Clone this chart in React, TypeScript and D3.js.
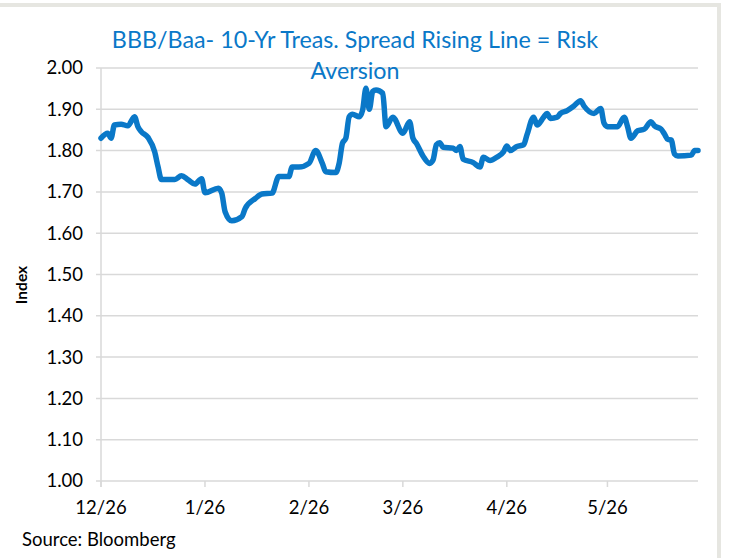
import React from 'react';
import * as d3 from 'd3';

// BBB/Baa - 10yr Treasury spread
const dates = [
  '2018-12-26', '2018-12-28', '2018-12-29', '2018-12-30', '2019-01-01', '2019-01-03', '2019-01-05',
  '2019-01-06', '2019-01-07', '2019-01-09', '2019-01-11', '2019-01-12', '2019-01-13', '2019-01-17',
  '2019-01-19', '2019-01-21', '2019-01-23', '2019-01-25', '2019-01-26', '2019-01-30', '2019-01-31',
  '2019-02-01', '2019-02-03', '2019-02-06', '2019-02-07', '2019-02-10', '2019-02-12', '2019-02-15',
  '2019-02-17', '2019-02-20', '2019-02-21', '2019-02-23', '2019-02-26', '2019-02-28', '2019-03-02',
  '2019-03-03', '2019-03-06', '2019-03-07', '2019-03-08', '2019-03-09', '2019-03-10', '2019-03-11',
  '2019-03-13', '2019-03-14', '2019-03-15', '2019-03-16', '2019-03-17', '2019-03-18', '2019-03-20',
  '2019-03-21', '2019-03-23', '2019-03-26', '2019-03-28', '2019-03-29', '2019-03-30', '2019-04-01',
  '2019-04-03', '2019-04-04', '2019-04-05', '2019-04-06', '2019-04-07', '2019-04-10', '2019-04-11',
  '2019-04-12', '2019-04-13', '2019-04-16', '2019-04-18', '2019-04-19', '2019-04-21', '2019-04-23',
  '2019-04-25', '2019-04-26', '2019-04-27', '2019-04-29', '2019-05-01', '2019-05-02', '2019-05-04',
  '2019-05-05', '2019-05-07', '2019-05-08', '2019-05-09', '2019-05-11', '2019-05-12', '2019-05-14',
  '2019-05-16', '2019-05-18', '2019-05-19', '2019-05-22', '2019-05-24', '2019-05-25', '2019-05-26',
  '2019-05-29', '2019-05-31', '2019-06-01', '2019-06-02', '2019-06-04', '2019-06-06', '2019-06-08',
  '2019-06-09', '2019-06-11', '2019-06-12', '2019-06-13', '2019-06-14', '2019-06-15', '2019-06-16',
  '2019-06-20', '2019-06-21', '2019-06-22',
];

const spread = [
  1.830, 1.842, 1.830, 1.862, 1.864, 1.860, 1.882,
  1.858, 1.846, 1.832, 1.797, 1.761, 1.730, 1.730,
  1.739, 1.729, 1.719, 1.732, 1.698, 1.709, 1.697,
  1.652, 1.630, 1.640, 1.660, 1.684, 1.695, 1.697,
  1.737, 1.737, 1.760, 1.760, 1.769, 1.800, 1.769,
  1.749, 1.747, 1.769, 1.818, 1.830, 1.882, 1.888,
  1.882, 1.898, 1.951, 1.900, 1.943, 1.947, 1.939,
  1.858, 1.881, 1.842, 1.870, 1.830, 1.818, 1.787,
  1.769, 1.777, 1.814, 1.819, 1.808, 1.806, 1.800,
  1.810, 1.779, 1.771, 1.760, 1.784, 1.776, 1.784,
  1.797, 1.811, 1.800, 1.810, 1.814, 1.838, 1.881,
  1.862, 1.881, 1.890, 1.878, 1.881, 1.890, 1.897,
  1.908, 1.921, 1.908, 1.890, 1.902, 1.866, 1.858,
  1.858, 1.881, 1.858, 1.830, 1.848, 1.852, 1.870,
  1.860, 1.852, 1.840, 1.827, 1.826, 1.792, 1.787,
  1.789, 1.800, 1.800,
];

const xTickDates = ['2018-12-26', '2019-01-26', '2019-02-26', '2019-03-26', '2019-04-26', '2019-05-26'];
const yTicks = [1.0, 1.1, 1.2, 1.3, 1.4, 1.5, 1.6, 1.7, 1.8, 1.9, 2.0];

const titleLines = ['BBB/Baa- 10-Yr Treas. Spread Rising Line = Risk', 'Aversion'];

const W = 729;
const H = 558;
const FONT = 'Lato, "Open Sans", sans-serif';
const BLUE = '#0a78c8';
const GRID = '#d9d9d9';

const parse = d3.timeParse('%Y-%m-%d');

export default function App() {
  const left = 101;
  const right = 698;
  const top = 68;
  const bottom = 481;

  const data = dates.map((d, i) => ({ date: parse(d) as Date, value: spread[i] }));

  const x = d3.scaleTime()
    .domain([parse('2018-12-26') as Date, parse('2019-06-22') as Date])
    .range([left, right]);

  const y = d3.scaleLinear()
    .domain([1.0, 2.0])
    .range([bottom, top]);

  const path = d3.line<{ date: Date; value: number }>()
    .x(d => x(d.date))
    .y(d => y(d.value))
    .curve(d3.curveMonotoneX)(data);

  const fmt = d3.timeFormat('%-m/%d');

  return (
    <div style={{ position: 'absolute', left: 0, top: 0 }}>
      <svg width={W} height={H} style={{ display: 'block', background: '#fff' }}>
        {/* frame */}
        <rect x={-10} y={5} width={729} height={600} fill="none" stroke="#e6e6e1" strokeWidth={4} />

        {/* grid */}
        {yTicks.map(t => (
          <line key={t} x1={left - 5} x2={right} y1={y(t)} y2={y(t)} stroke={GRID} strokeWidth={1.5} />
        ))}
        <line x1={left} x2={left} y1={top} y2={bottom + 6} stroke={GRID} strokeWidth={1.5} />
        {xTickDates.map(d => {
          const xx = x(parse(d) as Date);
          return <line key={d} x1={xx} x2={xx} y1={bottom} y2={bottom + 6} stroke={GRID} strokeWidth={1.5} />;
        })}

        {/* y labels */}
        {yTicks.map(t => (
          <text key={t} x={83} y={y(t)} dy="0.35em" textAnchor="end" fontFamily={FONT} fontSize={18.5} fill="#000">
            {t.toFixed(2)}
          </text>
        ))}

        {/* x labels */}
        {xTickDates.map(d => (
          <text key={d} x={x(parse(d) as Date)} y={508} dy="0.35em" textAnchor="middle" fontFamily={FONT} fontSize={18.5} fill="#000">
            {fmt(parse(d) as Date)}
          </text>
        ))}

        <text transform="translate(22,285) rotate(-90)" textAnchor="middle" dy="0.35em" fontFamily={FONT} fontWeight="bold" fontSize={15.5} fill="#000">
          Index
        </text>

        {/* series */}
        <path d={path || ''} fill="none" stroke={BLUE} strokeWidth={5.5} strokeLinejoin="round" strokeLinecap="round" />

        {/* title */}
        {titleLines.map((t, i) => (
          <text key={t} x={355} y={40 + i * 31} dy="0.35em" textAnchor="middle" fontFamily={FONT} fontSize={23.3} fill={BLUE}>
            {t}
          </text>
        ))}

        <text x={22} y={540} dy="0.35em" fontFamily={FONT} fontSize={18.5} fill="#000">Source: Bloomberg</text>
      </svg>
    </div>
  );
}
